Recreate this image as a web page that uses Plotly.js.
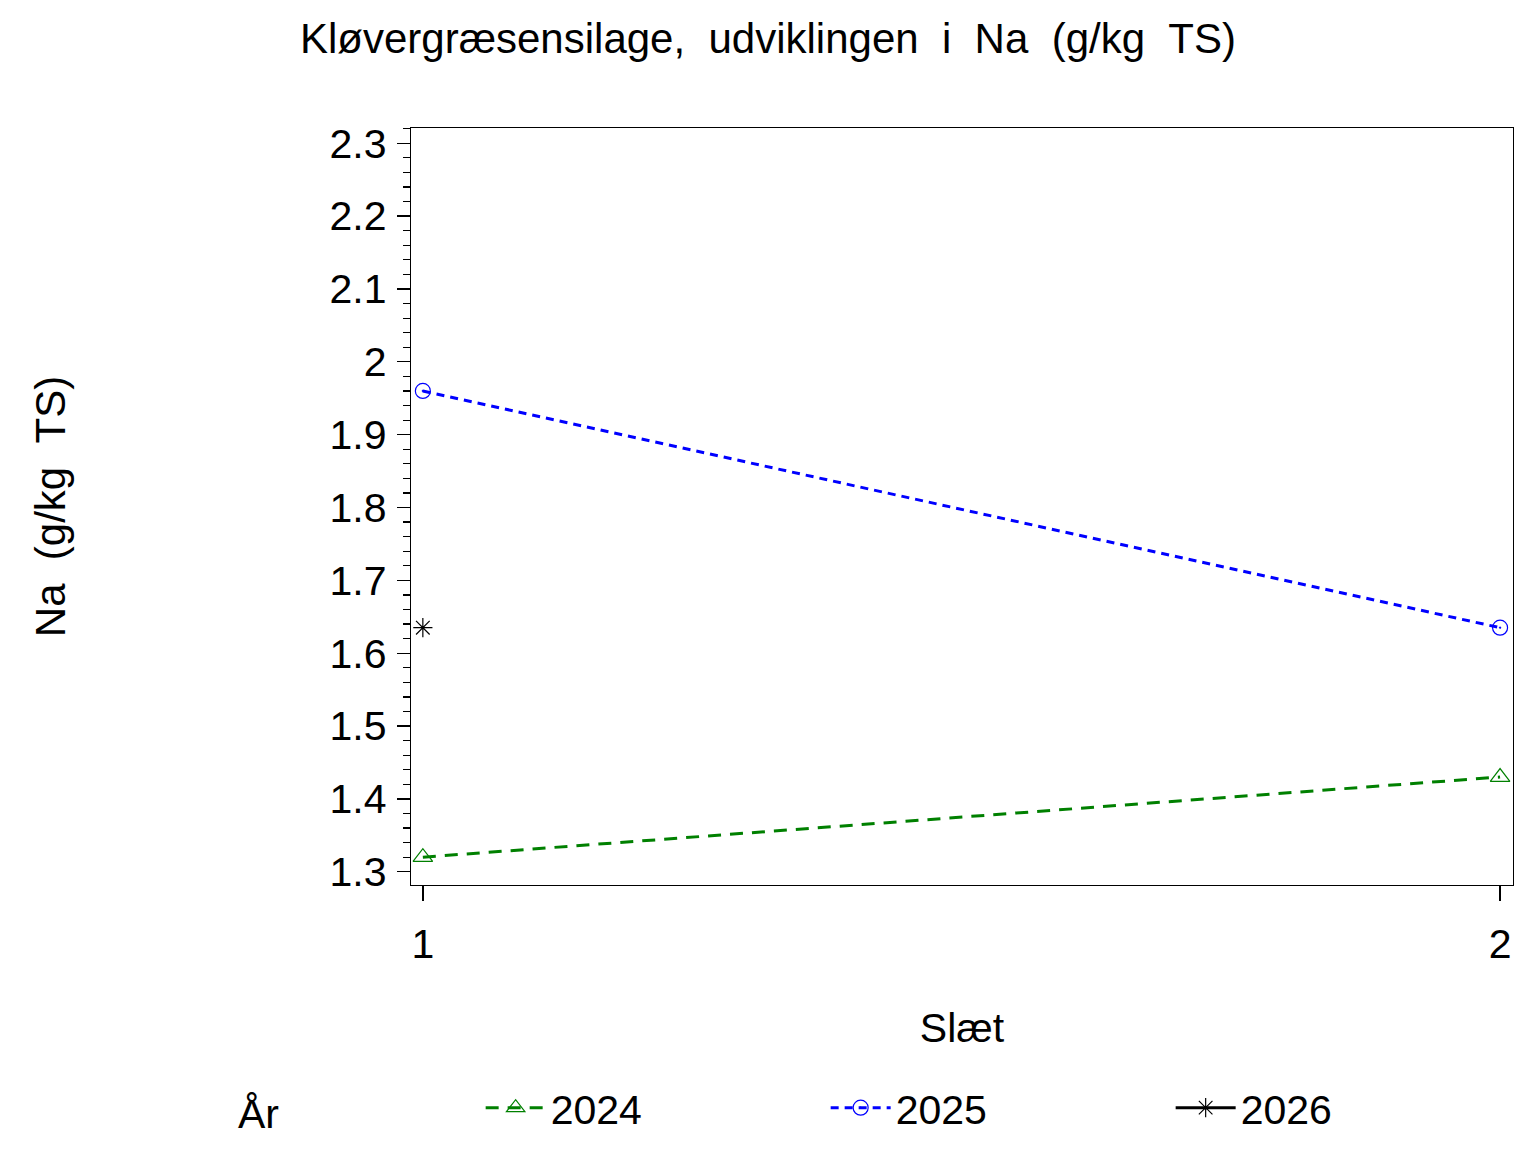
<!DOCTYPE html>
<html>
<head>
<meta charset="utf-8">
<script src="https://cdn.plot.ly/plotly-3.0.1.min.js"></script>
<style>
  body { margin: 0; background: #fff; }
  #chart { width: 1536px; height: 1152px; }
</style>
</head>
<body>
<div id="chart"></div>
<script>
// Slæt (cut number) on x, Na in g/kg TS on y
const slaet = [1, 2];
const na2024 = [1.32, 1.43];
const na2025 = [1.96, 1.635];
const slaet2026 = [1];
const na2026 = [1.635];

const yTicks = [1.3, 1.4, 1.5, 1.6, 1.7, 1.8, 1.9, 2, 2.1, 2.2, 2.3];
const yTickText = ['1.3', '1.4', '1.5', '1.6', '1.7', '1.8', '1.9', '2', '2.1', '2.2', '2.3'];

const font = 'Liberation Sans, Arial, sans-serif';
const sp = '\u00a0\u00a0';

var traces = [
  {
    x: slaet, y: na2024, name: '2024', type: 'scatter', mode: 'lines+markers',
    line: {color: '#008000', width: 3, dash: '13px,9px'},
    marker: {symbol: 'triangle-up-open', size: 17, color: '#008000', line: {width: 1.2}}
  },
  {
    x: slaet, y: na2025, name: '2025', type: 'scatter', mode: 'lines+markers',
    line: {color: '#0000ff', width: 3, dash: '8px,6px'},
    marker: {symbol: 'circle-open-dot', size: 15, color: '#0000ff', line: {width: 1.2}}
  },
  {
    x: slaet2026, y: na2026, name: '2026', type: 'scatter', mode: 'lines+markers',
    line: {color: '#000000', width: 3},
    marker: {symbol: 'asterisk-open', size: 16, color: '#000000', line: {width: 1.2}}
  }
];

var layout = {
  width: 1536, height: 1152,
  margin: {l: 411, r: 23, t: 128, b: 267, autoexpand: false},
  paper_bgcolor: '#fff', plot_bgcolor: '#fff',
  font: {family: font, color: '#000'},
  title: {
    text: 'Kløvergræsensilage,' + sp + 'udviklingen' + sp + 'i' + sp + 'Na' + sp + '(g/kg' + sp + 'TS)',
    font: {size: 42, family: font, color: '#000'},
    x: 0.5, xref: 'container', xanchor: 'center', y: 1 - 38 / 1152, yanchor: 'middle'
  },
  xaxis: {
    range: [0.989, 2.012],
    tickvals: slaet, ticktext: ['1', '2'],
    ticks: 'outside', ticklen: 15, tickwidth: 1.3, tickcolor: '#000',
    ticklabelstandoff: 7,
    tickfont: {size: 41, family: font},
    showgrid: false, zeroline: false,
    showline: true, linecolor: '#000', linewidth: 1.3, mirror: true,
    title: {text: 'Slæt', font: {size: 41, family: font}, standoff: 47}
  },
  yaxis: {
    range: [1.2818, 2.321],
    tickvals: yTicks, ticktext: yTickText,
    ticks: 'outside', ticklen: 13, tickwidth: 1.3, tickcolor: '#000',
    ticklabelstandoff: 2,
    tickfont: {size: 41, family: font},
    minor: {dtick: 0.02, tick0: 1.3, ticks: 'outside', ticklen: 7, tickwidth: 1.2, tickcolor: '#000', showgrid: false},
    showgrid: false, zeroline: false,
    showline: true, linecolor: '#000', linewidth: 1.3, mirror: true,
    title: {text: 'Na' + sp + '(g/kg' + sp + 'TS)', font: {size: 42, family: font}, standoff: 250}
  },
  showlegend: true,
  legend: {
    orientation: 'h',
    x: (236 - 411) / 1102, xanchor: 'left',
    y: (885 - 1108) / 757, yanchor: 'middle',
    font: {size: 41, family: font},
    title: {text: 'År' + '\u00a0'.repeat(17), font: {size: 41, family: font}, side: 'left'},
    itemwidth: 60,
    entrywidth: 270,
    bgcolor: 'rgba(0,0,0,0)'
  }
};

Plotly.newPlot('chart', traces, layout, {displayModeBar: false, staticPlot: true});
</script>
</body>
</html>
